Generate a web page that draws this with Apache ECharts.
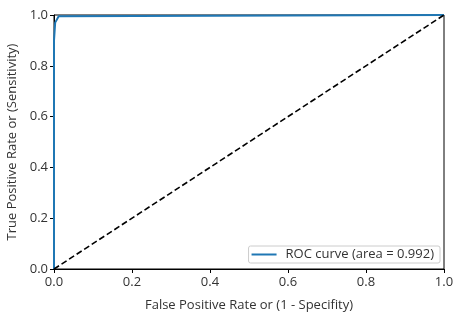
<!DOCTYPE html>
<html><head><meta charset="utf-8">
<script src="https://cdn.jsdelivr.net/npm/echarts@6/dist/echarts.min.js"></script>
<style>html,body{margin:0;padding:0;background:#fff}#c{width:466px;height:316px}</style>
</head><body><div id="c"></div>
<script>
const fpr = [0, 0, 0.003, 0.012, 1];
const tpr = [0, 0.9, 0.97, 0.995, 1];
const diagX = [0, 1];
const diagY = [0, 1];
const ticks = [0, 0.2, 0.4, 0.6, 0.8, 1.0];
const legendLabel = 'ROC curve (area = 0.992)';
const xTitle = 'False Positive Rate or (1 - Specifity)';
const yTitle = 'True Positive Rate or (Sensitivity)';

const font = 'Open Sans';
const fs = 13;
const chart = echarts.init(document.getElementById('c'), null, {renderer: 'canvas'});
const axisCommon = {
  type: 'value', min: 0, max: 1, interval: 0.2,
  axisLine: {show: true, onZero: false, lineStyle: {color: '#000', width: 1}},
  axisTick: {show: true, length: 4, lineStyle: {color: '#000'}},
  splitLine: {show: false},
  axisLabel: {color: '#333', fontFamily: font, fontSize: fs, formatter: v => v.toFixed(1)},
  nameTextStyle: {color: '#333', fontFamily: font, fontSize: fs}
};
chart.setOption({
  animation: false,
  grid: {left: 54, right: 22, top: 15, bottom: 47, show: true, borderColor: '#000', borderWidth: 1, containLabel: false, outerBoundsMode: 'none'},
  xAxis: Object.assign({}, axisCommon, {name: xTitle, nameLocation: 'middle', nameGap: 30, axisLabel: Object.assign({}, axisCommon.axisLabel, {margin: 7})}),
  yAxis: Object.assign({}, axisCommon, {name: yTitle, nameLocation: 'middle', nameGap: 33, axisLabel: Object.assign({}, axisCommon.axisLabel, {margin: 6})}),
  legend: {
    right: 26, bottom: 53, orient: 'vertical',
    backgroundColor: '#fff', borderColor: '#ccc', borderWidth: 1, borderRadius: 2,
    padding: [2, 6, 2, 3],
    itemWidth: 25, itemHeight: 2, icon: 'rect', itemGap: 5,
    textStyle: {fontFamily: font, fontSize: fs, color: '#333', padding: [0, 0, 0, 4]},
    data: [legendLabel]
  },
  series: [
    {name: legendLabel, type: 'line', data: fpr.map((x, i) => [x, tpr[i]]), showSymbol: false,
     lineStyle: {color: '#1f77b4', width: 2}, itemStyle: {color: '#1f77b4'}},
    {name: 'diag', type: 'line', data: diagX.map((x, i) => [x, diagY[i]]), showSymbol: false,
     lineStyle: {color: '#000', width: 1.6, type: [6, 3]}, itemStyle: {color: '#000'}}
  ]
});
</script></body></html>
